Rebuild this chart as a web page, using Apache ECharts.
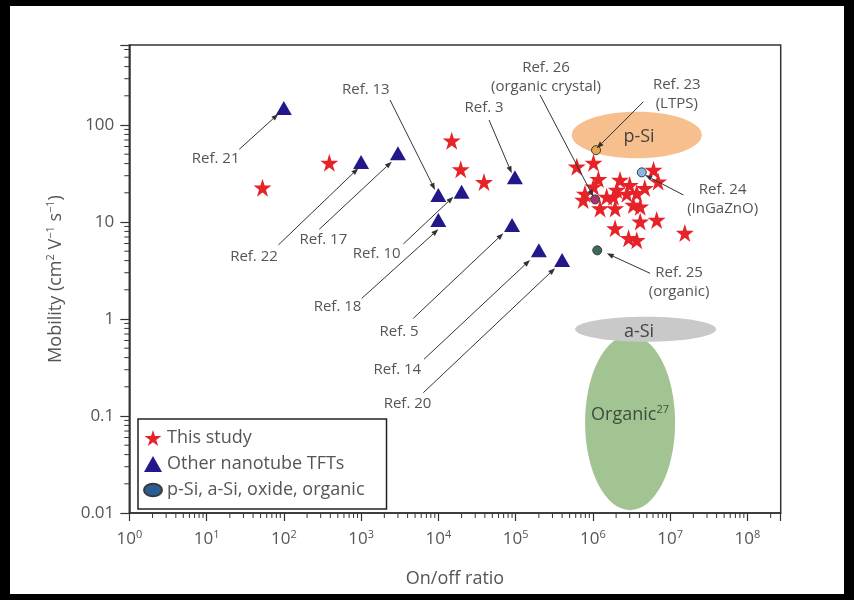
<!DOCTYPE html>
<html><head><meta charset="utf-8">
<script src="https://cdn.jsdelivr.net/npm/echarts@6/dist/echarts.min.js"></script>
<style>html,body{margin:0;padding:0;background:#000}#bg{position:absolute;left:10px;top:6px;width:834px;height:588px;background:#fff}#c{position:absolute;left:0;top:0;width:854px;height:600px}</style>
</head><body><div id="bg"></div><div id="c"></div>
<script>
// ---------- data ----------
const xTickExponents = [0, 1, 2, 3, 4, 5, 6, 7, 8];
const yTickValues = [0.01, 0.1, 1, 10, 100];
const yTickLabels = ['0.01', '0.1', '1', '10', '100'];

// This study (stars): on/off ratio, mobility
const starX = [53, 388, 14900, 19500, 39000, 6.2e5, 1.02e6, 6.1e6, 7.0e6, 2.25e6, 3.0e6, 3.7e6, 2.04e6, 1.51e6, 1.18e6, 7.9e5, 1.24e6, 1.94e6, 2.75e6, 4.1e6, 4.1e6, 6.7e6, 1.94e6, 2.9e6, 3.7e6, 1.55e7, 1.85e6, 3.34e6, 1.02e6, 4.7e6, 7.5e5];
const starY = [22.6, 40.8, 68.9, 34.9, 25.8, 37.2, 40.8, 34.4, 26.1, 27.1, 24.0, 19.8, 21.4, 18.2, 27.7, 19.5, 13.8, 13.8, 19.5, 14.4, 10.1, 10.5, 8.6, 6.8, 6.5, 7.7, 18.2, 15.0, 23.1, 22.4, 16.9];

// Other nanotube TFTs (triangles)
const triX = [100, 1000, 3000, 1e4, 2e4, 1e4, 9.8e4, 9e4, 2e5, 4e5];
const triY = [150, 41.6, 51, 19, 20.5, 10.5, 29, 9.3, 5.1, 4.05];

// p-Si, a-Si, oxide, organic reference points
const otherNames = ['Ref. 23 (LTPS)', 'Ref. 24 (InGaZnO)', 'Ref. 26 (organic crystal)', 'Ref. 25 (organic)'];
const otherX = [1.1e6, 4.3e6, 1.07e6, 1.14e6];
const otherY = [55, 32.5, 17.1, 5.1];
const otherColors = ['#e9a64c', '#8bb8e4', '#a8336e', '#3b6b55'];

// Shaded regions (ellipse bounds in data units) and their labels
const regionNames = ['Organic', 'a-Si', 'p-Si'];
const regionXMin = [7.93e5, 5.89e5, 5.33e5];
const regionXMax = [1.16e7, 3.94e7, 2.57e7];
const regionYMin = [0.0107, 0.583, 45.4];
const regionYMax = [0.684, 1.057, 137];
const regionTextX = [3.03e6, 3.96e6, 3.96e6];
const regionTextY = [0.102, 0.739, 75.7];
const regionColors = ['#a2c493', '#c9c9c9', '#f6bf8d'];

// Annotations: text, label x, label y, arrow tail x, tail y, arrow head x, head y
const refNotes = [
  ['Ref. 21', 13.1, 45.4, 26.5, 56.1, 84.9, 130],
  ['Ref. 22', 41.1, 4.39, 85, 5.80, 921, 35.8],
  ['Ref. 17', 325, 6.52, 288, 8.41, 2494, 41.9],
  ['Ref. 10', 1594, 4.76, 3524, 5.93, 15640, 18.2],
  ['Ref. 13', 1152, 229.6, 2371, 181, 9066, 21.4],
  ['Ref. 3', 39070, 149.6, 45300, 112.7, 89150, 31.8],
  ['Ref. 18', 496, 1.34, 1019, 1.63, 10000, 8.41],
  ['Ref. 5', 3100, 0.739, 4746, 1.016, 69350, 7.65],
  ['Ref. 14', 2946, 0.298, 6530, 0.385, 153800, 4.06],
  ['Ref. 20', 3993, 0.135, 6397, 0.174, 324300, 3.34],
  ['Ref. 26\n(organic crystal)', 247700, 312.6, 207300, 203.7, 1.016e6, 18.2],
  ['Ref. 23\n(LTPS)', 1.22e7, 208.9, 4.51e6, 173.8, 1.124e6, 57.5],
  ['Ref. 24\n(InGaZnO)', 4.78e7, 17.3, 1.485e7, 19.0, 4.74e6, 30.5],
  ['Ref. 25\n(organic)', 1.306e7, 2.40, 5.5e6, 2.96, 1.514e6, 4.75]
];

// ---------- chart ----------
const FONT = '"Open Sans", "DejaVu Sans", sans-serif';
const TEXT = '#555';
const STAR = 'path://M50,0 L61.2,34.5 L97.6,34.5 L68.2,55.9 L79.4,90.5 L50,69.1 L20.6,90.5 L31.8,55.9 L2.4,34.5 L38.8,34.5 Z';
const ELLIPSE = 'path://M0,7 A10,7 0 1,1 20,7 A10,7 0 1,1 0,7 Z';

function isPow10(v) { const e = Math.log10(v); return Math.abs(e - Math.round(e)) < 1e-6; }

const xMinor = [], yMinor = [];
for (let e = 0; e <= 8; e++) for (let m = 2; m <= 9; m++) { const v = m * Math.pow(10, e); if (v < 2.7e8) xMinor.push([v, 0.01]); }
for (let e = -2; e <= 2; e++) for (let m = 2; m <= 9; m++) { const v = m * Math.pow(10, e); if (v < 668) yMinor.push([1, v]); }

const chart = echarts.init(document.getElementById('c'), null, { renderer: 'canvas' });
chart.setOption({
  backgroundColor: 'transparent',
  animation: false,
  textStyle: { fontFamily: FONT },
  grid: { left: 129.3, top: 45, right: 73.3, bottom: 87, show: true, borderColor: '#333', borderWidth: 1.5, backgroundColor: 'transparent', outerBoundsMode: 'none' },
  legend: {
    orient: 'vertical', left: 138, top: 419,
    itemWidth: 18, itemHeight: 16, itemGap: 8,
    padding: [10, 22, 10, 5],
    borderColor: '#222', borderWidth: 1.5, backgroundColor: '#fff',
    textStyle: { fontSize: 18, color: TEXT, fontFamily: FONT, lineHeight: 18 },
    data: [
      { name: 'This study', icon: STAR, itemStyle: { color: '#e62328' } },
      { name: 'Other nanotube TFTs', icon: 'triangle', itemStyle: { color: '#22188a' } },
      { name: 'p-Si, a-Si, oxide, organic', icon: ELLIPSE, itemStyle: { color: '#2b5c96' } }
    ]
  },
  xAxis: {
    type: 'log', logBase: 10, min: 1, max: 2.7e8, interval: 1,
    name: 'On/off ratio', nameLocation: 'middle', nameGap: 57,
    nameTextStyle: { fontSize: 18, color: TEXT, fontFamily: FONT },
    axisLine: { lineStyle: { color: '#333', width: 1.5 } },
    axisTick: { length: 8, lineStyle: { color: '#333', width: 1.2 } },
    splitLine: { show: false },
    axisLabel: {
      margin: 16, color: TEXT,
      formatter: function (v) { if (!isPow10(v)) return ''; const e = Math.round(Math.log10(v)); return xTickExponents.indexOf(e) >= 0 ? '{b|10}{s|' + e + '}' : ''; },
      rich: { b: { fontSize: 17, color: TEXT, lineHeight: 20, fontFamily: FONT }, s: { fontSize: 11, color: TEXT, lineHeight: 12, verticalAlign: 'top', fontFamily: FONT } }
    }
  },
  yAxis: {
    type: 'log', logBase: 10, min: 0.01, max: 668, interval: 1,
    name: '{b|Mobility (cm}{s|2}{b| V}{s|−1}{b| s}{s|−1}{b|)}', nameLocation: 'middle', nameGap: 62,
    nameTextStyle: { rich: { b: { fontSize: 18, color: TEXT, lineHeight: 22, fontFamily: FONT }, s: { fontSize: 11, color: TEXT, lineHeight: 12, verticalAlign: 'top', fontFamily: FONT } } },
    axisLine: { lineStyle: { color: '#333', width: 1.5 } },
    axisTick: { length: 9, lineStyle: { color: '#333', width: 1.2 } },
    splitLine: { show: false },
    axisLabel: {
      margin: 15, fontSize: 17, color: TEXT,
      formatter: function (v) { if (!isPow10(v)) return ''; const i = yTickValues.findIndex(t => Math.abs(Math.log10(t) - Math.log10(v)) < 1e-6); return i >= 0 ? yTickLabels[i] : ''; }
    }
  },
  series: [
    {
      type: 'custom', name: 'regions', silent: true, z: 1, clip: false,
      encode: { x: [0, 1], y: [2, 3] },
      data: regionNames.map((n, i) => [regionXMin[i], regionXMax[i], regionYMin[i], regionYMax[i], regionTextX[i], regionTextY[i]]),
      renderItem: function (params, api) {
        const i = params.dataIndex;
        const p1 = api.coord([api.value(0), api.value(3)]);
        const p2 = api.coord([api.value(1), api.value(2)]);
        const t = api.coord([api.value(4), api.value(5)]);
        const txt = i === 0 ? '{b|Organic}{s|27}' : '{b|' + regionNames[i] + '}';
        return { type: 'group', children: [
          { type: 'ellipse', shape: { cx: (p1[0] + p2[0]) / 2, cy: (p1[1] + p2[1]) / 2, rx: Math.abs(p2[0] - p1[0]) / 2, ry: Math.abs(p2[1] - p1[1]) / 2 }, style: { fill: regionColors[i] } },
          { type: 'text', x: t[0], y: t[1], style: { text: txt, align: 'center', verticalAlign: 'middle',
              rich: { b: { fontSize: 18, fill: i === 0 ? '#3c4d3c' : '#444', fontFamily: FONT, lineHeight: 22 }, s: { fontSize: 11, fill: '#3c4d3c', fontFamily: FONT, lineHeight: 12, verticalAlign: 'top' } } } }
        ] };
      }
    },
    {
      type: 'custom', name: 'xminor', silent: true, clip: false, z: 2,
      encode: { x: 0, y: 1 }, data: xMinor,
      renderItem: function (params, api) {
        const p = api.coord([api.value(0), api.value(1)]);
        return { type: 'line', shape: { x1: p[0], y1: p[1], x2: p[0], y2: p[1] + 5 }, style: { stroke: '#333', lineWidth: 1 } };
      }
    },
    {
      type: 'custom', name: 'yminor', silent: true, clip: false, z: 2,
      encode: { x: 0, y: 1 }, data: yMinor,
      renderItem: function (params, api) {
        const p = api.coord([api.value(0), api.value(1)]);
        return { type: 'line', shape: { x1: p[0], y1: p[1], x2: p[0] - 5, y2: p[1] }, style: { stroke: '#333', lineWidth: 1 } };
      }
    },
    {
      type: 'scatter', name: 'This study', z: 3, symbol: STAR, symbolSize: 18,
      itemStyle: { color: '#e62328', opacity: 1 },
      data: starX.map((x, i) => [x, starY[i]])
    },
    {
      type: 'scatter', name: 'Other nanotube TFTs', z: 3, symbol: 'triangle', symbolSize: [16, 14],
      itemStyle: { color: '#22188a', opacity: 1 },
      data: triX.map((x, i) => [x, triY[i]])
    },
    {
      type: 'scatter', name: 'p-Si, a-Si, oxide, organic', z: 4, symbol: 'circle', symbolSize: 9,
      itemStyle: { color: '#2b5c96', borderColor: '#3a3a3a', borderWidth: 1, opacity: 1 },
      data: otherX.map((x, i) => ({ name: otherNames[i], value: [x, otherY[i]], itemStyle: { color: otherColors[i] } }))
    },
    {
      type: 'custom', name: 'notes', silent: true, clip: false, z: 5,
      encode: { x: [0, 2, 4], y: [1, 3, 5] },
      data: refNotes.map(a => a.slice(1)),
      renderItem: function (params, api) {
        const a = refNotes[params.dataIndex];
        const L = api.coord([a[1], a[2]]), T = api.coord([a[3], a[4]]), H = api.coord([a[5], a[6]]);
        const dx = H[0] - T[0], dy = H[1] - T[1], len = Math.hypot(dx, dy), ux = dx / len, uy = dy / len;
        const al = 7, aw = 2.6;
        const bx = H[0] - ux * al, by = H[1] - uy * al;
        return { type: 'group', children: [
          { type: 'line', shape: { x1: T[0], y1: T[1], x2: bx, y2: by }, style: { stroke: '#333', lineWidth: 1 } },
          { type: 'polygon', shape: { points: [[H[0], H[1]], [bx - uy * aw, by + ux * aw], [bx + uy * aw, by - ux * aw]] }, style: { fill: '#333' } },
          { type: 'text', x: L[0], y: L[1], style: { text: a[0], fill: TEXT, fontSize: 15, fontFamily: FONT, align: 'center', verticalAlign: 'middle', lineHeight: 19 } }
        ] };
      }
    }
  ]
});
</script></body></html>
